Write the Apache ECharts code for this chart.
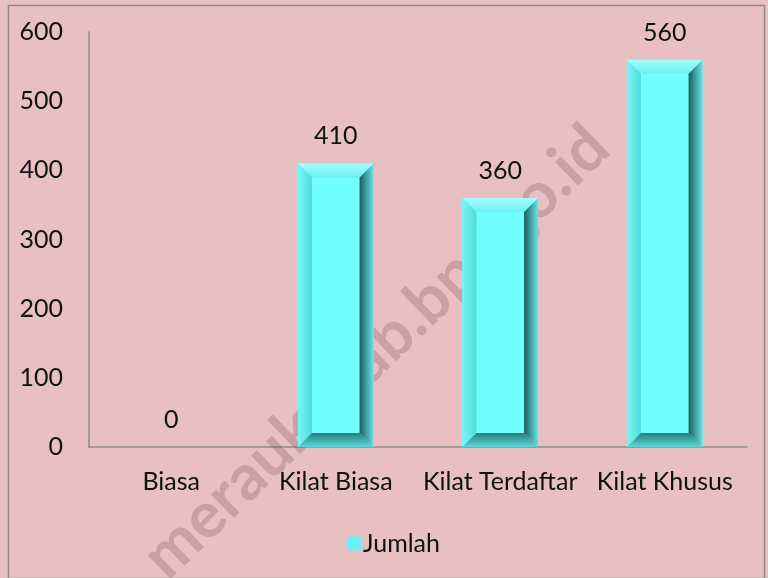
<!DOCTYPE html>
<html>
<head>
<meta charset="utf-8">
<script src="https://cdn.jsdelivr.net/npm/echarts@6/dist/echarts.min.js"></script>
<style>
  html, body {margin: 0; padding: 0; background: #e8c0c1;}
  #chart {width: 768px; height: 578px;}
</style>
</head>
<body>
<div id="chart"></div>
<script>
const categories = ['Biasa', 'Kilat Biasa', 'Kilat Terdaftar', 'Kilat Khusus']
const jumlah = [0, 410, 360, 560]
const yTicks = [0, 100, 200, 300, 400, 500, 600]

const font = 'Lato'
const textColor = '#111'
const fontSize = 25
const bevel = 14

const grad = (x, y, x2, y2, c1, c2) => new echarts.graphic.LinearGradient(x, y, x2, y2, [
  {offset: 0, color: c1}, {offset: 1, color: c2}
])

const renderBar = (params, api) => {
  const value = api.value(1)
  const top = api.coord([api.value(0), value])
  const base = api.coord([api.value(0), 0])
  const w = api.size([1, 0])[0] * 0.46
  const x0 = top[0] - w / 2
  const x1 = top[0] + w / 2
  const y0 = top[1]
  const y1 = base[1]
  const children = []
  if (y1 - y0 > 1) {
    const b = Math.min(bevel, (y1 - y0) / 2)
    children.push(
      {type: 'rect', shape: {x: x0, y: y0, width: w, height: y1 - y0}, style: {fill: '#72fefe'}},
      {type: 'polygon', shape: {points: [[x0, y0], [x1, y0], [x1 - b, y0 + b], [x0 + b, y0 + b]]},
        style: {fill: grad(0, 0, 0, 1, '#a4ffff', '#6eeeee')}},
      {type: 'polygon', shape: {points: [[x0, y0], [x0 + b, y0 + b], [x0 + b, y1 - b], [x0, y1]]},
        style: {fill: grad(0, 0, 1, 0, '#78f6f6', '#50dcdc')}},
      {type: 'polygon', shape: {points: [[x1, y0], [x1, y1], [x1 - b, y1 - b], [x1 - b, y0 + b]]},
        style: {fill: grad(0, 0, 1, 0, '#1d5c5c', '#66e6e6')}},
      {type: 'polygon', shape: {points: [[x0, y1], [x1, y1], [x1 - b, y1 - b], [x0 + b, y1 - b]]},
        style: {fill: grad(0, 0, 0, 1, '#2a7c7c', '#5ad8d8')}}
    )
  }
  children.push({
    type: 'text',
    style: {
      x: top[0], y: y0 - 27, text: String(value),
      align: 'center', verticalAlign: 'middle',
      font: fontSize + 'px ' + font, fill: textColor
    }
  })
  return {type: 'group', children}
}

const chart = echarts.init(document.getElementById('chart'))
chart.setOption({
  backgroundColor: '#e8c0c1',
  animation: false,
  textStyle: {fontFamily: font},
  grid: {left: 89, right: 21, top: 32, bottom: 131},
  graphic: [
    {
      type: 'rect', left: 6, top: 3, z: 100, silent: true,
      shape: {width: 756, height: 573},
      style: {fill: 'none', stroke: '#8a8a8a', lineWidth: 1.5}
    },
    {
      type: 'text', x: 376, y: 352, rotation: 44 * Math.PI / 180, z: 1, silent: true,
      style: {
        text: 'meraukekab.bps.go.id', align: 'center', verticalAlign: 'middle',
        font: 'bold 64px ' + font, fill: 'rgba(90, 50, 55, 0.22)'
      }
    }
  ],
  legend: {
    left: 342, top: 526,
    itemWidth: 14, itemHeight: 14, itemGap: 4,
    icon: 'rect',
    textStyle: {fontSize, color: textColor, fontFamily: font, padding: [0, 0, 0, -3]},
    data: ['Jumlah']
  },
  xAxis: {
    type: 'category',
    data: categories,
    axisLine: {lineStyle: {color: '#8c8c8c', width: 1.5}},
    axisTick: {show: false},
    axisLabel: {fontSize, color: textColor, margin: 22, interval: 0}
  },
  yAxis: {
    type: 'value',
    min: yTicks[0], max: yTicks[yTicks.length - 1], interval: 100,
    axisLine: {show: true, lineStyle: {color: '#8c8c8c', width: 1.5}},
    axisTick: {show: false},
    splitLine: {show: false},
    axisLabel: {fontSize, color: textColor, margin: 26}
  },
  series: [{
    name: 'Jumlah',
    type: 'custom',
    z: 5,
    itemStyle: {color: '#66f2f2'},
    encode: {x: 0, y: 1},
    data: jumlah.map((v, i) => [i, v]),
    renderItem: renderBar
  }]
})
</script>
</body>
</html>
